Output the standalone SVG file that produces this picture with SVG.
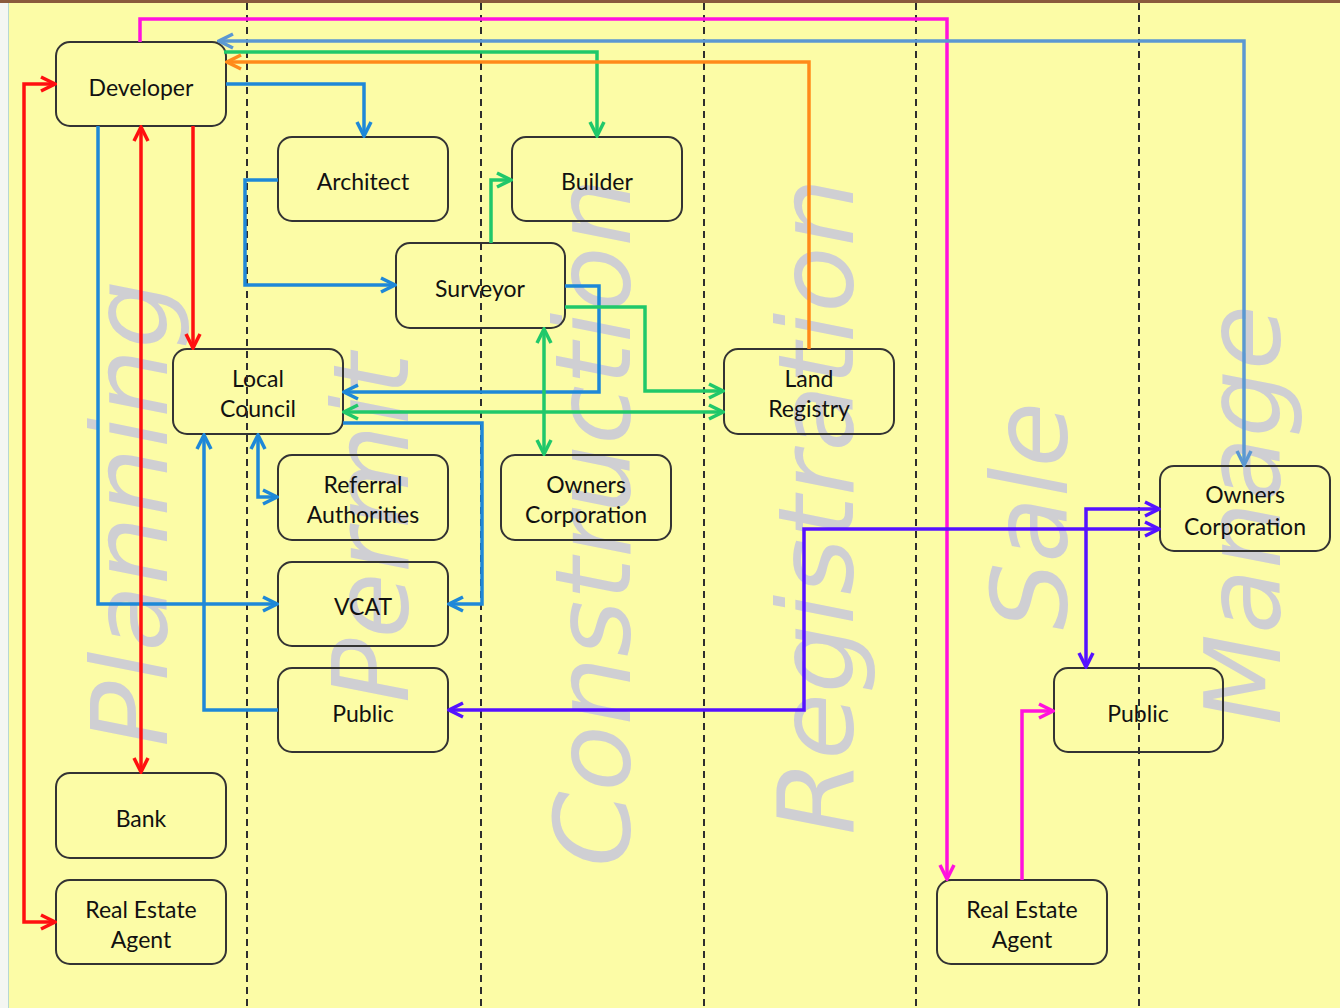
<svg xmlns="http://www.w3.org/2000/svg" width="1340" height="1008" viewBox="0 0 1340 1008">
<style>
.wm{font-family:"DejaVu Sans","Liberation Sans",sans-serif;font-style:oblique;font-size:106px;fill:#cfcfd3}
.node rect{fill:none;stroke:#333;stroke-width:2}
.node text{font-family:Lato,"Open Sans","Liberation Sans",sans-serif;font-size:23px;fill:#111;text-anchor:middle}
.lane{stroke:#2e2e2e;stroke-width:2;stroke-dasharray:7 5}
.c{fill:none;stroke-width:3.5;stroke-linejoin:miter}
.red{stroke:#ff1010}.blue{stroke:#1e88d8}.lblue{stroke:#5b98d2}.green{stroke:#20c86a}.orange{stroke:#ff8a1a}.mag{stroke:#ff12dd}.pur{stroke:#5512ff}
</style>
<defs>
<marker id="aRed" viewBox="0 0 18 18" refX="16" refY="9" markerWidth="18" markerHeight="18" markerUnits="userSpaceOnUse" orient="auto-start-reverse"><path d="M2,2 L16,9 L2,16" fill="none" stroke="#ff1010" stroke-width="3.5"/></marker>
<marker id="aBlue" viewBox="0 0 18 18" refX="16" refY="9" markerWidth="18" markerHeight="18" markerUnits="userSpaceOnUse" orient="auto-start-reverse"><path d="M2,2 L16,9 L2,16" fill="none" stroke="#1e88d8" stroke-width="3.5"/></marker>
<marker id="aLBlue" viewBox="0 0 18 18" refX="16" refY="9" markerWidth="18" markerHeight="18" markerUnits="userSpaceOnUse" orient="auto-start-reverse"><path d="M2,2 L16,9 L2,16" fill="none" stroke="#5b98d2" stroke-width="3.5"/></marker>
<marker id="aGreen" viewBox="0 0 18 18" refX="16" refY="9" markerWidth="18" markerHeight="18" markerUnits="userSpaceOnUse" orient="auto-start-reverse"><path d="M2,2 L16,9 L2,16" fill="none" stroke="#20c86a" stroke-width="3.5"/></marker>
<marker id="aOrange" viewBox="0 0 18 18" refX="16" refY="9" markerWidth="18" markerHeight="18" markerUnits="userSpaceOnUse" orient="auto-start-reverse"><path d="M2,2 L16,9 L2,16" fill="none" stroke="#ff8a1a" stroke-width="3.5"/></marker>
<marker id="aMag" viewBox="0 0 18 18" refX="16" refY="9" markerWidth="18" markerHeight="18" markerUnits="userSpaceOnUse" orient="auto-start-reverse"><path d="M2,2 L16,9 L2,16" fill="none" stroke="#ff12dd" stroke-width="3.5"/></marker>
<marker id="aPur" viewBox="0 0 18 18" refX="16" refY="9" markerWidth="18" markerHeight="18" markerUnits="userSpaceOnUse" orient="auto-start-reverse"><path d="M2,2 L16,9 L2,16" fill="none" stroke="#5512ff" stroke-width="3.5"/></marker>
</defs>

<rect x="0" y="0" width="1340" height="1008" fill="#fcfca6"/>
<rect x="0" y="0" width="8" height="1008" fill="#f4f6f2"/>
<line x1="8.5" y1="0" x2="8.5" y2="1008" stroke="#b8d8d0" stroke-width="1"/>
<rect x="0" y="0" width="1340" height="3" fill="#8a5a3c"/>

<g id="watermarks">
<text class="wm" transform="translate(167,747) rotate(-90)" textLength="467" lengthAdjust="spacingAndGlyphs">Planning</text>
<text class="wm" transform="translate(408,703) rotate(-90)" textLength="350" lengthAdjust="spacingAndGlyphs">Permit</text>
<text class="wm" transform="translate(630,867) rotate(-90)" textLength="689" lengthAdjust="spacingAndGlyphs">Construction</text>
<text class="wm" transform="translate(853,835) rotate(-90)" textLength="657" lengthAdjust="spacingAndGlyphs">Registration</text>
<text class="wm" transform="translate(1067,630) rotate(-90)" textLength="228" lengthAdjust="spacingAndGlyphs">Sale</text>
<text class="wm" transform="translate(1280,725) rotate(-90)" textLength="420" lengthAdjust="spacingAndGlyphs">Manage</text>
</g>

<g id="nodes">
<g id="developer" class="node"><rect x="56" y="42" width="170" height="84" rx="14"/><text x="141" y="96">Developer</text></g>
<g id="architect" class="node"><rect x="278" y="137" width="170" height="84" rx="14"/><text x="363" y="190">Architect</text></g>
<g id="builder" class="node"><rect x="512" y="137" width="170" height="84" rx="14"/><text x="597" y="190">Builder</text></g>
<g id="surveyor" class="node"><rect x="396" y="243" width="169" height="85" rx="14"/><text x="480" y="297">Surveyor</text></g>
<g id="local-council" class="node"><rect x="173" y="349" width="170" height="85" rx="14"/><text x="258" y="387">Local</text><text x="258" y="417">Council</text></g>
<g id="land-registry" class="node"><rect x="724" y="349" width="170" height="85" rx="14"/><text x="809" y="387">Land</text><text x="809" y="417">Registry</text></g>
<g id="referral-authorities" class="node"><rect x="278" y="455" width="170" height="85" rx="14"/><text x="363" y="493">Referral</text><text x="363" y="523">Authorities</text></g>
<g id="owners-corporation-1" class="node"><rect x="501" y="455" width="170" height="85" rx="14"/><text x="586" y="493">Owners</text><text x="586" y="523">Corporation</text></g>
<g id="vcat" class="node"><rect x="278" y="562" width="170" height="84" rx="14"/><text x="363" y="615">VCAT</text></g>
<g id="public-1" class="node"><rect x="278" y="668" width="170" height="84" rx="14"/><text x="363" y="722">Public</text></g>
<g id="bank" class="node"><rect x="56" y="773" width="170" height="85" rx="14"/><text x="141" y="827">Bank</text></g>
<g id="real-estate-agent-1" class="node"><rect x="56" y="880" width="170" height="84" rx="14"/><text x="141" y="918">Real Estate</text><text x="141" y="948">Agent</text></g>
<g id="owners-corporation-2" class="node"><rect x="1160" y="466" width="170" height="85" rx="14"/><text x="1245" y="503">Owners</text><text x="1245" y="535">Corporation</text></g>
<g id="public-2" class="node"><rect x="1054" y="668" width="169" height="84" rx="14"/><text x="1138" y="722">Public</text></g>
<g id="real-estate-agent-2" class="node"><rect x="937" y="880" width="170" height="84" rx="14"/><text x="1022" y="918">Real Estate</text><text x="1022" y="948">Agent</text></g>
</g>

<g id="lanes">
<line class="lane" x1="247" y1="3" x2="247" y2="1008"/>
<line class="lane" x1="481" y1="3" x2="481" y2="1008"/>
<line class="lane" x1="704" y1="3" x2="704" y2="1008"/>
<line class="lane" x1="916" y1="3" x2="916" y2="1008"/>
<line class="lane" x1="1139" y1="3" x2="1139" y2="1008"/>
</g>

<g id="connectors">
<path class="c mag" d="M140,42 V19 H947 V879" marker-end="url(#aMag)"/>
<path class="c mag" d="M1022,880 V711 H1053" marker-end="url(#aMag)"/>
<path class="c lblue" d="M1244,465 V41 H219" marker-start="url(#aLBlue)" marker-end="url(#aLBlue)"/>
<path class="c green" d="M224,52 H597 V136" marker-end="url(#aGreen)"/>
<path class="c orange" d="M809,349 V62 H227" marker-end="url(#aOrange)"/>
<path class="c blue" d="M226,84 H364 V136" marker-end="url(#aBlue)"/>
<path class="c blue" d="M278,180 H245 V285 H395" marker-end="url(#aBlue)"/>
<path class="c green" d="M491,243 V180 H511" marker-end="url(#aGreen)"/>
<path class="c blue" d="M565,286 H599 V392 H344" marker-end="url(#aBlue)"/>
<path class="c green" d="M565,307 H645 V391 H723" marker-end="url(#aGreen)"/>
<path class="c green" d="M344,412 H723" marker-start="url(#aGreen)" marker-end="url(#aGreen)"/>
<path class="c green" d="M544,329 V454" marker-start="url(#aGreen)" marker-end="url(#aGreen)"/>
<path class="c blue" d="M343,423 H482 V604 H449" marker-end="url(#aBlue)"/>
<path class="c blue" d="M98,126 V604 H277" marker-end="url(#aBlue)"/>
<path class="c blue" d="M278,710 H204 V435" marker-end="url(#aBlue)"/>
<path class="c blue" d="M258,435 V497 H277" marker-start="url(#aBlue)" marker-end="url(#aBlue)"/>
<path class="c red" d="M55,84 H24 V922 H55" marker-start="url(#aRed)" marker-end="url(#aRed)"/>
<path class="c red" d="M141,127 V772" marker-start="url(#aRed)" marker-end="url(#aRed)"/>
<path class="c red" d="M193,126 V348" marker-end="url(#aRed)"/>
<path class="c pur" d="M449,710 H804 V529 H1159" marker-start="url(#aPur)" marker-end="url(#aPur)"/>
<path class="c pur" d="M1159,509 H1086 V667" marker-start="url(#aPur)" marker-end="url(#aPur)"/>
</g>
</svg>
